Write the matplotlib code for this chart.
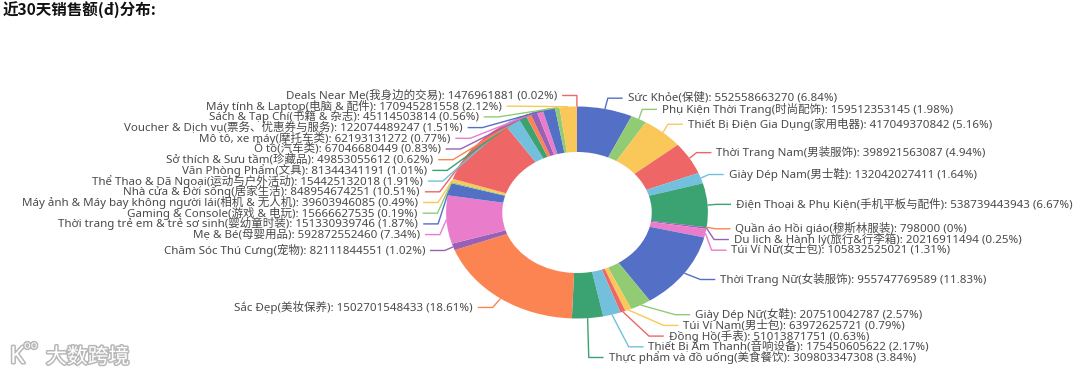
import numpy as np
import matplotlib
matplotlib.use("Agg")
import matplotlib.pyplot as plt
from matplotlib import patheffects as pe

# ---------------- data (clockwise from 12 o'clock) ----------------
names = [
    "Sức Khỏe(保健)", "Phụ Kiện Thời Trang(时尚配饰)", "Thiết Bị Điện Gia Dụng(家用电器)",
    "Thời Trang Nam(男装服饰)", "Giày Dép Nam(男士鞋)", "Điện Thoại & Phụ Kiện(手机平板与配件)",
    "Quần áo Hồi giáo(穆斯林服装)", "Du lịch & Hành lý(旅行&行李箱)", "Túi Ví Nữ(女士包)",
    "Thời Trang Nữ(女装服饰)", "Giày Dép Nữ(女鞋)", "Túi Ví Nam(男士包)", "Đồng Hồ(手表)",
    "Thiết Bị Âm Thanh(音响设备)", "Thực phẩm và đồ uống(美食餐饮)", "Sắc Đẹp(美妆保养)",
    "Chăm Sóc Thú Cưng(宠物)", "Mẹ & Bé(母婴用品)", "Thời trang trẻ em & trẻ sơ sinh(婴幼童时装)",
    "Gaming & Console(游戏 & 电玩)", "Máy ảnh & Máy bay không người lái(相机 & 无人机)",
    "Nhà cửa & Đời sống(居家生活)", "Thể Thao & Dã Ngoại(运动与户外活动)", "Văn Phòng Phẩm(文具)",
    "Sở thích & Sưu tầm(珍藏品)", "Ô tô(汽车类)", "Mô tô, xe máy(摩托车类)",
    "Voucher & Dịch vụ(票务、优惠券与服务)", "Sách & Tạp Chí(书籍 & 杂志)",
    "Máy tính & Laptop(电脑 & 配件)", "Deals Near Me(我身边的交易)",
]
values = [
    552558663270, 159512353145, 417049370842, 398921563087, 132042027411, 538739443943,
    798000, 20216911494, 105832525021, 955747769589, 207510042787, 63972625721,
    51013871751, 175450605622, 309803347308, 1502701548433, 82111844551, 592872552460,
    151330939746, 15666627535, 39603946085, 848954674251, 154425132018, 81344341191,
    49853055612, 67046680449, 62193131272, 122074489247, 45114503814, 170945281558,
    1476961881,
]
pcts = [
    "6.84", "1.98", "5.16", "4.94", "1.64", "6.67", "0", "0.25", "1.31", "11.83", "2.57",
    "0.79", "0.63", "2.17", "3.84", "18.61", "1.02", "7.34", "1.87", "0.19", "0.49",
    "10.51", "1.91", "1.01", "0.62", "0.83", "0.77", "1.51", "0.56", "2.12", "0.02",
]
title = "近30天销售额(đ)分布:"

palette = ["#5470c6", "#91cc75", "#fac858", "#ee6666", "#73c0de",
           "#3ba272", "#fc8452", "#9a60b4", "#ea7ccc"]
colors = [palette[i % len(palette)] for i in range(len(values))]

# ---------------- geometry (pixels) ----------------
W, H = 1080, 376
cx, cy = 577.0, 212.5
R = 106.0           # outer radius (vertical)
sx = 1.235          # horizontal stretch
inner = 0.571
len1, len2, gap = 11.0, 12.0, 4.0
lh = 10.7           # label line height

fig = plt.figure(figsize=(W / 100, H / 100), dpi=100)
fig.patch.set_facecolor("white")

ax_pie = fig.add_axes([(cx - sx * R) / W, 1 - (cy + R) / H, 2 * sx * R / W, 2 * R / H])
ax_pie.pie(values, radius=1, startangle=90, counterclock=False, colors=colors,
           wedgeprops=dict(width=1 - inner, edgecolor="none", linewidth=0))
ax_pie.set_aspect("auto")
ax_pie.set_xlim(-1, 1)
ax_pie.set_ylim(-1, 1)
ax_pie.axis("off")

ax = fig.add_axes([0, 0, 1, 1])
ax.set_xlim(0, W)
ax.set_ylim(H, 0)
ax.axis("off")
ax.patch.set_alpha(0)

# ---------------- label layout (echarts-like) ----------------
vals = np.array(values, dtype=float)
frac = vals / vals.sum()
cum = np.concatenate([[0], np.cumsum(frac)])
mids = (cum[:-1] + cum[1:]) / 2 * 2 * np.pi
rA = R + len1
items = []
for i, th in enumerate(mids):
    dxu, dyu = np.sin(th), -np.cos(th)
    d = -1 if dxu < 0 else 1
    x2, y2 = rA * dxu, rA * dyu
    items.append(dict(i=i, dir=d, x1=R * dxu, y1=R * dyu,
                      lx=x2 + d * len2 + d * gap, ly=y2))

for d in (1, -1):
    side = sorted([it for it in items if it["dir"] == d], key=lambda t: t["ly"])
    shifted = False
    last = -1e9
    for it in side:
        top = it["ly"] - lh / 2
        if top < last:
            it["ly"] += last - top
            shifted = True
        last = it["ly"] + lh / 2
    if shifted:
        for semi in ([t for t in side if t["ly"] <= 0], [t for t in side if t["ly"] > 0]):
            if not semi:
                continue
            far = max(semi, key=lambda t: abs(t["ly"]))
            dyf = abs(far["ly"])
            dxf = far["lx"] - len2 * d
            rB = np.sqrt(dyf ** 2 / (1 - dxf ** 2 / rA ** 2)) if abs(dxf) < rA else rA
            for t in semi:
                v = max(0.0, 1 - t["ly"] ** 2 / rB ** 2)
                t["lx"] = (np.sqrt(v) * rA + len2) * d

fam = ["Noto Sans", "Noto Sans CJK SC"]
for it in items:
    i, d = it["i"], it["dir"]
    ex = it["lx"] - d * gap
    bx = ex - d * len2
    xs = [cx + sx * it["x1"], cx + sx * bx, cx + sx * ex]
    ys = [cy + it["y1"], cy + it["ly"], cy + it["ly"]]
    ax.plot(xs, ys, color=colors[i], lw=1.0, solid_capstyle="butt")
    txt = f"{names[i]}: {values[i]} ({pcts[i]}%)"
    ax.text(cx + sx * it["lx"], cy + it["ly"], txt, ha="left" if d > 0 else "right",
            va="center", fontsize=8.3, color="#4a4a4a", family=fam)

# ---------------- title & watermark ----------------
ax.text(3, 10, title, ha="left", va="center", fontsize=11.2, fontweight="bold",
        color="#111111", family=["Noto Sans CJK SC", "Noto Sans"])
wm = [pe.withStroke(linewidth=2.2, foreground="#b8b8b8")]
ax.text(10, 357, "K", fontsize=17, color="white", ha="left", va="center",
        family=["Noto Sans"], path_effects=wm)
ax.text(24, 346, "oo", fontsize=8, color="white", ha="left", va="center",
        family=["Noto Sans"], path_effects=wm)
ax.text(46, 357, "大数跨境", fontsize=15, color="white", ha="left", va="center",
        family=["Noto Sans CJK SC"], path_effects=wm)

fig.savefig("out.png", dpi=100, facecolor="white")
